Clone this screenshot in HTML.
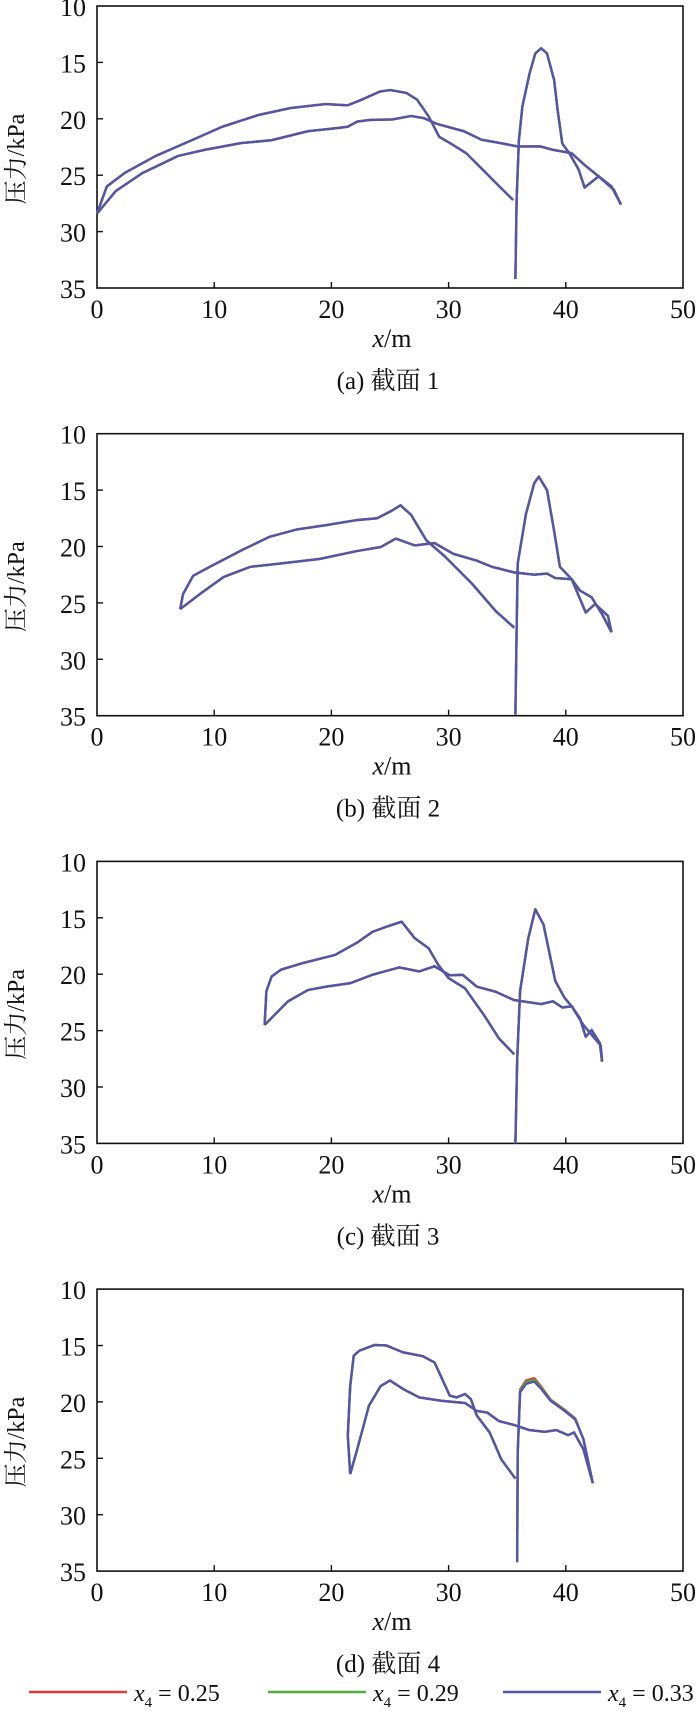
<!DOCTYPE html>
<html><head><meta charset="utf-8"><style>
body{margin:0;background:#fff;}
svg{display:block;}
text{font-family:"Liberation Serif","Noto Serif CJK SC","Noto Sans CJK SC",serif;fill:#111;}
</style></head><body>
<svg id="chart" width="700" height="1711" viewBox="0 0 700 1711"></svg>
<script>
const xTicks=[0,10,20,30,40,50];
const yTicks=[10,15,20,25,30,35];
const captions=["(a) 截面 1","(b) 截面 2","(c) 截面 3","(d) 截面 4"];
const seriesNames=["x4 = 0.25","x4 = 0.29","x4 = 0.33"];
const seriesColors=["#e03a3a","#4caf3a","#5555a8"];
// panel a
const aUpX=[0,0.84,2.36,5.0,8.1,10.7,13.8,16.5,19.5,21.4,22.6,24.1,25.0,26.4,27.3,28.3,29.2,30.2,31.5,32.8,34.2,35.5];
const aUpY=[28.4,26.0,24.8,23.3,21.9,20.7,19.65,19.05,18.7,18.8,18.3,17.6,17.45,17.7,18.3,19.8,21.6,22.2,23.05,24.4,25.85,27.2];
const aLoX=[0,1.6,3.9,6.9,9.2,12.3,14.9,18.0,20.7,21.4,22.2,23.3,25.2,26.8,27.9,29.0,31.3,32.8,34.4,35.9,37.8,38.9,40.5,41.6,42.8,44.1,44.7];
const aLoY=[28.4,26.4,24.8,23.3,22.75,22.15,21.9,21.1,20.8,20.7,20.25,20.1,20.05,19.75,19.95,20.45,21.1,21.85,22.15,22.45,22.45,22.75,23.05,24.1,25.1,26.3,27.6];
const aSpX=[35.7,35.8,36.0,36.3,36.9,37.4,37.9,38.4,39.0,39.3,39.7,40.3,41.1,41.6,42.8,43.9,44.7];
const aSpY=[34.2,27.2,21.9,18.9,16.0,14.2,13.75,14.2,16.55,19.2,22.2,23.05,24.5,26.1,25.1,26.0,27.6];
// panel b
const bUpX=[7.1,7.35,8.2,9.8,12.4,14.7,17.0,19.6,22.2,23.9,25.2,25.9,26.8,28.1,29.7,32.0,34.0,35.6];
const bUpY=[25.55,24.2,22.6,21.7,20.3,19.15,18.5,18.1,17.65,17.5,16.8,16.35,17.2,19.45,20.9,23.3,25.7,27.2];
const bLoX=[7.1,8.8,10.8,13.1,15.7,19.0,22.2,24.2,25.5,27.1,28.8,30.4,32.4,33.7,35.6,37.3,38.4,39.1,40.5,41.2,42.2,43.1,43.9];
const bLoY=[25.55,24.2,22.7,21.8,21.5,21.1,20.4,20.05,19.3,19.9,19.7,20.65,21.25,21.8,22.3,22.5,22.4,22.8,22.9,23.9,24.5,26.0,27.6];
const bSpX=[35.7,35.8,35.9,36.6,37.3,37.7,38.4,39.0,39.5,40.5,41.7,42.5,43.6,43.9];
const bSpY=[34.9,27.5,21.5,17.1,14.4,13.8,15.0,18.6,21.8,22.9,25.85,25.1,26.15,27.6];
// panel c
const cUpX=[14.3,14.45,14.9,15.7,17.6,20.3,22.2,23.5,24.8,26.0,27.1,28.3,29.1,30.0,31.4,33.0,34.3,35.6];
const cUpY=[24.5,21.5,20.2,19.6,19.0,18.3,17.2,16.25,15.75,15.35,16.8,17.7,19.15,20.35,21.25,23.6,25.7,27.1];
const cLoX=[14.3,16.3,18.0,19.6,21.6,23.5,25.8,27.5,28.8,30.1,31.2,32.4,34.0,35.6,37.9,38.9,39.7,40.5,41.2,41.7,42.2,42.9,43.1];
const cLoY=[24.5,22.4,21.4,21.1,20.8,20.05,19.4,19.75,19.3,20.1,20.05,21.1,21.55,22.3,22.65,22.4,22.95,22.85,23.9,25.55,24.95,26.1,27.75];
const cSpX=[35.7,35.85,36.1,36.8,37.4,38.1,39.1,39.9,40.5,41.5,42.97,43.1];
const cSpY=[35.0,27.5,21.5,16.8,14.25,15.6,20.6,22.1,22.85,24.5,26.3,27.75];
// panel d
const dUpX=[21.6,21.4,21.6,21.9,22.4,23.7,24.7,26.1,27.8,28.8,30.1,30.7,31.4,31.9,32.4,33.5,34.5,35.7];
const dUpY=[26.4,23.0,18.6,15.9,15.45,14.95,15.0,15.6,15.95,16.5,19.45,19.6,19.3,19.75,21.2,22.7,25.1,26.8];
const dLoX=[21.6,22.2,23.2,24.2,25.0,26.1,27.5,29.4,31.4,32.4,33.3,34.3,35.6,36.9,38.2,39.2,40.2,40.7,41.5,42.3];
const dLoY=[26.4,24.2,20.35,18.6,18.1,18.85,19.6,19.9,20.1,20.8,20.95,21.7,22.05,22.5,22.65,22.5,22.95,22.7,24.2,27.2];
const dSpX=[35.85,35.9,36.1,36.6,37.3,37.9,38.7,39.9,40.8,41.5,42.3];
const dSpY33=[34.2,24.5,19.15,18.4,18.2,18.85,19.9,20.8,21.55,23.3,27.2];
const dSpY29=[34.2,24.5,19.0,18.25,18.05,18.75,19.85,20.75,21.5,23.3,27.2];
const dSpY25=[34.2,24.5,18.9,18.1,17.9,18.65,19.8,20.7,21.45,23.3,27.2];

const panels=[
 {curves:[[aUpX,aUpY],[aLoX,aLoY]],spX:aSpX,spY:[aSpY,aSpY,aSpY]},
 {curves:[[bUpX,bUpY],[bLoX,bLoY]],spX:bSpX,spY:[bSpY,bSpY,bSpY]},
 {curves:[[cUpX,cUpY],[cLoX,cLoY]],spX:cSpX,spY:[cSpY,cSpY,cSpY]},
 {curves:[[dUpX,dUpY],[dLoX,dLoY]],spX:dSpX,spY:[dSpY25,dSpY29,dSpY33]}
];
const NS="http://www.w3.org/2000/svg";
const svg=document.getElementById('chart');
const L=97,R=683,H=282,PITCH=427.7,TOP0=6;
function mk(tag,attrs,parent){const e=document.createElementNS(NS,tag);for(const k in attrs)e.setAttribute(k,attrs[k]);parent.appendChild(e);return e;}
panels.forEach((p,i)=>{
 const top=TOP0+i*PITCH,bot=top+H;
 const sx=v=>L+(v-0)/(50-0)*(R-L);
 const sy=v=>top+(v-10)/(35-10)*H;
 const g=mk('g',{},svg);
 
 
 const frame=mk('rect',{x:L,y:top,width:R-L,height:H,fill:'none',stroke:'#111','stroke-width':1.6},g);
 
 
 xTicks.forEach(t=>{
  if(t>0&&t<50){const tk=mk('line',{x1:sx(t),x2:sx(t),y1:bot,y2:bot-6,stroke:'#111','stroke-width':1.4},g);
  }
  const tl=mk('text',{x:sx(t),y:bot+30,'text-anchor':'middle','font-size':26},g);tl.textContent=t;
  
  
 });
 yTicks.forEach(t=>{
  if(t>10&&t<35){const tk=mk('line',{x1:L,x2:L+6,y1:sy(t),y2:sy(t),stroke:'#111','stroke-width':1.4},g);
  }
  const tl=mk('text',{x:86,y:sy(t)+10,'text-anchor':'end','font-size':26},g);tl.textContent=t;
  
  
 });
 const yt=mk('text',{x:0,y:0,'text-anchor':'middle','font-size':24,transform:`translate(24,${top+H/2+12}) rotate(-90)`},g);
 yt.textContent='压力/kPa';
 
 
 const xt=mk('text',{x:392,y:bot+59,'text-anchor':'middle','font-size':26},g);
 xt.innerHTML='<tspan font-style="italic">x</tspan>/m';
 
 
 const cap=mk('text',{x:388,y:bot+101,'text-anchor':'middle','font-size':25},g);
 cap.textContent=captions[i];
 
 
 for(let s=0;s<3;s++){
  p.curves.forEach(([xs,ys],ci)=>{
   const d=xs.map((x,k)=>(k?'L':'M')+sx(x).toFixed(1)+' '+sy(ys[k]).toFixed(1)).join(' ');
   const path=mk('path',{d:d,fill:'none',stroke:seriesColors[s],'stroke-width':2.4,'stroke-linejoin':'round'},g);
   
   
  });
  const ys=p.spY[s];
  const d=p.spX.map((x,k)=>(k?'L':'M')+sx(x).toFixed(1)+' '+sy(ys[k]).toFixed(1)).join(' ');
  const path=mk('path',{d:d,fill:'none',stroke:seriesColors[s],'stroke-width':2.4,'stroke-linejoin':'round'},g);
  
  
 }
});
// legend
const lx=[29,268,503];
seriesNames.forEach((n,i)=>{
 const g=mk('g',{},svg);
 
 
 mk('line',{x1:lx[i],x2:lx[i]+98,y1:1692,y2:1692,stroke:seriesColors[i],'stroke-width':2.5},g);
 const t=mk('text',{x:lx[i]+105,y:1701,'font-size':24},g);
 const val=n.split('= ')[1];
 t.innerHTML='<tspan font-style="italic">x</tspan><tspan font-size="15" dy="6">4</tspan><tspan dy="-6"> = '+val+'</tspan>';
});
</script>
</body></html>
